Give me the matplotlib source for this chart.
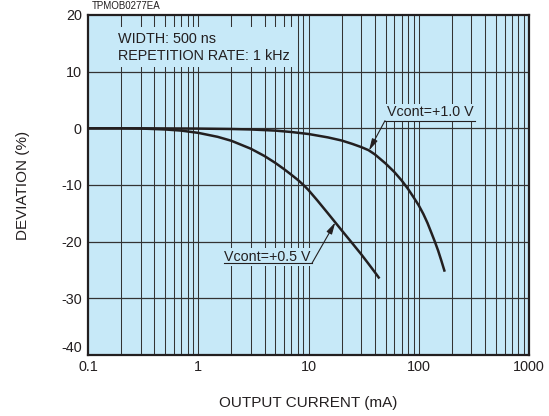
import numpy as np
import matplotlib
matplotlib.use("Agg")
import matplotlib.pyplot as plt
from matplotlib.patches import Rectangle
from matplotlib.ticker import FixedLocator, NullFormatter, NullLocator

# ---- data ----
current_05 = [0.1, 0.2, 0.316, 0.5, 0.7, 1.0, 1.5, 2.0, 3.0, 4.0, 5.0, 6.0, 7.0,
              8.0, 9.0, 10, 12, 15, 20, 25, 30, 35, 40, 44]
dev_05 = [0, 0, -0.05, -0.2, -0.4, -0.8, -1.5, -2.2, -3.6, -4.9, -6.1, -7.2, -8.2,
          -9.1, -10.0, -10.9, -12.7, -15.0, -18.0, -20.3, -22.2, -23.9, -25.4, -26.5]

current_10 = [0.1, 0.3, 1, 2, 3, 5, 7, 10, 15, 20, 25, 30, 35, 40, 50, 60, 70,
              80, 90, 100, 110, 120, 130, 140, 150, 160, 172]
dev_10 = [0, 0, -0.05, -0.12, -0.2, -0.4, -0.65, -1.0, -1.6, -2.15, -2.75, -3.3,
          -3.85, -4.6, -6.2, -7.7, -9.2, -10.7, -12.2, -13.6, -15.1, -16.7, -18.4,
          -20.0, -21.6, -23.3, -25.3]

x_ticks = [0.1, 1, 10, 100, 1000]
x_tick_labels = ["0.1", "1", "10", "100", "1000"]
y_ticks = [-40, -30, -20, -10, 0, 10, 20]
y_tick_labels = ["-40", "-30", "-20", "-10", "0", "10", "20"]

label_10 = "Vcont=+1.0 V"
label_05 = "Vcont=+0.5 V"
cond_lines = ["WIDTH: 500 ns", "REPETITION RATE: 1 kHz"]
code_text = "TPMOB0277EA"

# ---- styling ----
BG = "#c7e9f8"
INK = "#231f20"
GRID = "#333333"
FONT = "Liberation Sans"

plt.rcParams["font.family"] = [FONT, "DejaVu Sans"]

fig = plt.figure(figsize=(5.49, 4.16), dpi=100)
ax = fig.add_axes([88 / 549, 1 - 355 / 416, 441 / 549, 340 / 416])
ax.set_facecolor(BG)
ax.set_xscale("log")
ax.set_xlim(0.1, 1000)
ax.set_ylim(-40, 20)

# grid
minor = [m * 10.0 ** e for e in range(-1, 3) for m in range(2, 10)]
for xv in minor + x_ticks[1:-1]:
    ax.axvline(xv, color=GRID, lw=0.75, zorder=1)
for yv in y_ticks[1:-1]:
    ax.axhline(yv, color=GRID, lw=0.9, zorder=1)

# mask box behind the condition text
ax.add_patch(Rectangle((0.0, 0.847), 0.469, 0.118, transform=ax.transAxes,
                       facecolor=BG, edgecolor="none", zorder=2))
ax.text(0.068, 0.929, cond_lines[0], transform=ax.transAxes, fontsize=10.4,
        color=INK, va="center", ha="left", zorder=3)
ax.text(0.068, 0.879, cond_lines[1], transform=ax.transAxes, fontsize=10.4,
        color=INK, va="center", ha="left", zorder=3)

# curves
ax.plot(current_10, dev_10, color=INK, lw=1.8, solid_capstyle="butt",
        solid_joinstyle="round", zorder=4)
ax.plot(current_05, dev_05, color=INK, lw=1.8, solid_capstyle="butt",
        solid_joinstyle="round", zorder=4)

# curve labels with underline and leader arrow
def curve_label(text, text_xy, under_x0, under_x1, under_y, lead_from, tip):
    ax.text(text_xy[0], text_xy[1], text, fontsize=10.3, color=INK, ha="left",
            va="baseline", zorder=5,
            bbox=dict(boxstyle="square,pad=0.12", facecolor=BG, edgecolor="none"))
    ax.plot([under_x0, under_x1], [under_y, under_y], color=INK, lw=0.8, zorder=6)
    ax.annotate("", xy=tip, xytext=lead_from,
                arrowprops=dict(arrowstyle="-|>,head_length=0.7,head_width=0.18",
                                color=INK, lw=0.8, shrinkA=0, shrinkB=0,
                                mutation_scale=10), zorder=6)

curve_label(label_10, (51.5, 2.1), 49.4, 324, 1.35, (49.4, 1.35), (35.4, -3.9))
curve_label(label_05, (1.72, -23.4), 1.71, 10.76, -23.8, (10.76, -23.8), (17.5, -16.6))

# axes styling
for s in ax.spines.values():
    s.set_linewidth(1.6)
    s.set_color(INK)
    s.set_zorder(7)

ax.xaxis.set_major_locator(FixedLocator(x_ticks))
ax.xaxis.set_minor_locator(NullLocator())
ax.xaxis.set_minor_formatter(NullFormatter())
ax.set_xticks(x_ticks)
ax.set_xticklabels(x_tick_labels)
ax.set_yticks(y_ticks)
ax.set_yticklabels(y_tick_labels)
ax.tick_params(axis="both", length=0, labelsize=10.4, labelcolor=INK)
ax.tick_params(axis="x", pad=3.5)
ax.tick_params(axis="y", pad=4.5)
ax.get_yticklabels()[0].set_verticalalignment("bottom")

ax.set_xlabel("OUTPUT CURRENT (mA)", fontsize=11, color=INK, labelpad=16)
ax.set_ylabel("DEVIATION (%)", fontsize=11, color=INK, labelpad=22)

fig.text(92 / 549, 1 - 1 / 416, code_text, fontsize=7, color=INK, ha="left", va="top")

fig.savefig("out.png", dpi=100, facecolor="white")
